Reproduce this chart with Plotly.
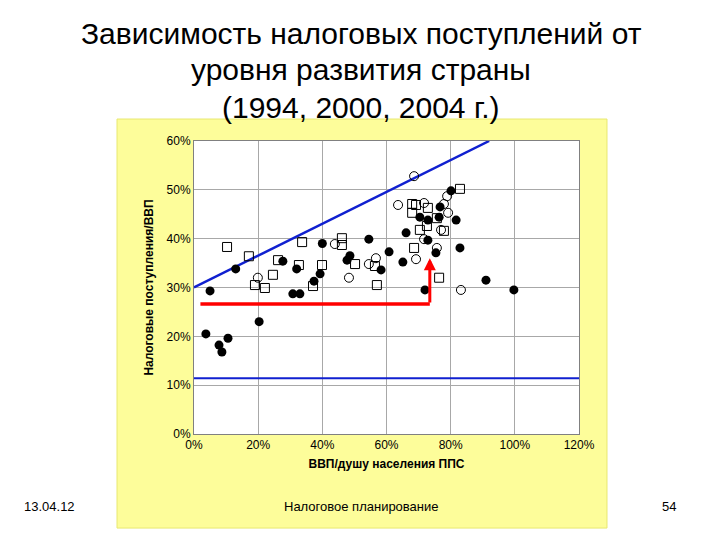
import plotly.graph_objects as go

filled_x = [5,3.7,7.8,8.7,10.6,13,20.3,27.7,32,30.8,33,40,37.4,39.3,48.6,47.7,54.5,58.3,60.8,65.1,66.1,70.4,72.9,72.9,75.4,76.7,76.4,80.1,81.7,82.9,72,91,99.7]
filled_y = [29.3,20.5,18.2,16.8,19.6,33.8,23,35.4,33.8,28.7,28.7,39,31.3,32.8,36.5,35.6,39.9,33.6,37.3,35.2,41.2,44.4,43.8,39.7,37.1,46.5,44.4,49.8,43.8,38.1,29.5,31.5,29.5]
square_x = [10.3,17.1,26.2,33.7,32.7,24.6,19,22.1,39.9,37.1,46.1,46.1,50.2,56.4,57,68,69.2,68,72.9,75.7,72.6,70.4,68.6,82.9,77.9,76.4]
square_y = [38.3,36.4,35.6,39.3,34.6,32.6,30.5,29.9,34.6,30.3,40.1,38.7,34.8,34.4,30.5,47.1,46.9,45.3,46.3,44.2,42.6,41.8,38.1,50.2,41.6,32]
circle_x = [19.9,43.9,48.3,56.7,54.5,68.6,63.6,71.7,78.9,77.9,79.2,77,71.7,75.7,69.2,83.2]
circle_y = [32,38.9,32,36,34.8,52.8,46.9,47.3,48.7,47.1,45.3,41.8,39.9,38.1,35.8,29.5]
upper_line_x = [0, 92]
upper_line_y = [30, 60]
lower_line_x = [0, 120]
lower_line_y = [11.4, 11.4]
arrow_h = [2, 73.5, 26.6]   # x0, x1, y
arrow_v = [73.5, 26.6, 36]  # x, y0, y1

fig = go.Figure()
fig.add_trace(go.Scatter(x=upper_line_x, y=upper_line_y, mode="lines", line=dict(color="#1020d0", width=2.5)))
fig.add_trace(go.Scatter(x=lower_line_x, y=lower_line_y, mode="lines", line=dict(color="#1020d0", width=2)))
fig.add_trace(go.Scatter(x=[arrow_h[0], arrow_h[1]], y=[arrow_h[2], arrow_h[2]], mode="lines", line=dict(color="red", width=3.5)))
fig.add_trace(go.Scatter(x=square_x, y=square_y, mode="markers", marker=dict(symbol="square-open", size=9, color="black", line=dict(width=1))))
fig.add_trace(go.Scatter(x=circle_x, y=circle_y, mode="markers", marker=dict(symbol="circle-open", size=9, color="black", line=dict(width=1))))
fig.add_trace(go.Scatter(x=filled_x, y=filled_y, mode="markers", marker=dict(symbol="circle", size=9, color="black")))

fig.add_annotation(x=arrow_h[1], y=arrow_h[2], ax=arrow_h[1]-1, ay=arrow_h[2], xref="x", yref="y", axref="x", ayref="y",
                   showarrow=True, arrowhead=2, arrowcolor="red", arrowwidth=3, arrowsize=0.8, text="")
fig.add_annotation(x=arrow_v[0], y=arrow_v[2], ax=arrow_v[0], ay=arrow_v[1], xref="x", yref="y", axref="x", ayref="y",
                   showarrow=True, arrowhead=2, arrowcolor="red", arrowwidth=3, arrowsize=0.8, text="")

fig.add_shape(type="rect", xref="paper", yref="paper", x0=-0.2, x1=1.0727, y0=-0.321, y1=1.075,
              fillcolor="#fdfd9a", line=dict(color="#e8e870", width=1), layer="below")
fig.add_shape(type="rect", xref="paper", yref="paper", x0=0, x1=1, y0=0, y1=1,
              fillcolor="white", line=dict(width=0), layer="below")

titles = ["Зависимость налоговых поступлений от", "уровня развития страны", "(1994, 2000, 2004 г.)"]
for i, t in enumerate(titles):
    fig.add_annotation(text=t, xref="paper", yref="paper", x=(360-193)/385, y=(433-(32+37*i))/293,
                       showarrow=False, font=dict(size=30, color="black"), xanchor="center", yanchor="middle")
for txt, px in [("13.04.12", 48), ("Налоговое планирование", 360), ("54", 668)]:
    fig.add_annotation(text=txt, xref="paper", yref="paper", x=(px-193)/385, y=(433-505)/293,
                       showarrow=False, font=dict(size=13, color="black"), xanchor="center", yanchor="middle")

fig.update_layout(
    width=720, height=540, showlegend=False,
    margin=dict(l=186, r=149, t=133, b=114),
    paper_bgcolor="white", plot_bgcolor="rgba(0,0,0,0)",
    font=dict(family="Liberation Sans, Arial", color="black"),
    xaxis=dict(range=[0, 120], dtick=20, ticksuffix="%", showgrid=True, gridcolor="#a8a8a8", zeroline=False,
               showline=True, linecolor="#808080", mirror=True, tickfont=dict(size=12),
               title=dict(text="<b>ВВП/душу населения ППС</b>", font=dict(size=12), standoff=8)),
    yaxis=dict(range=[0, 60], dtick=10, ticksuffix="%", showgrid=True, gridcolor="#a8a8a8", zeroline=False,
               showline=True, linecolor="#808080", mirror=True, tickfont=dict(size=12),
               title=dict(text="<b>Налоговые поступления/ВВП</b>", font=dict(size=12), standoff=10)),
)
fig.write_html("out.html")
